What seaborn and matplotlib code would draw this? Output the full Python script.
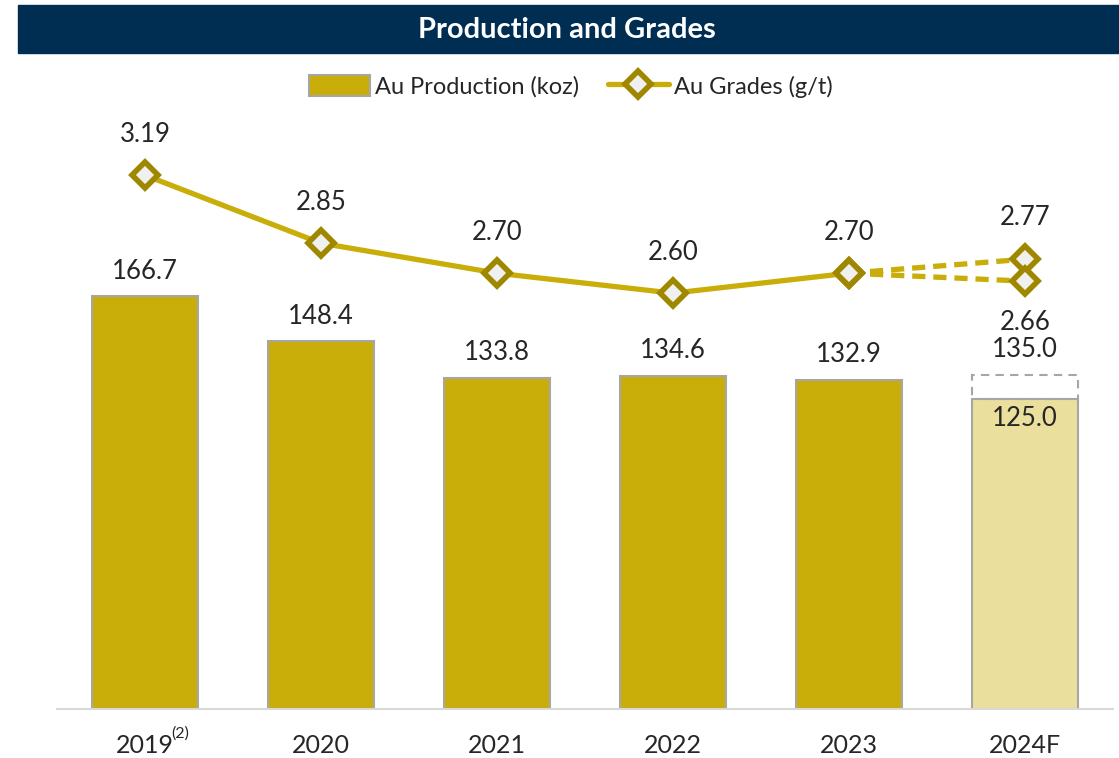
import numpy as np
import pandas as pd
import matplotlib
matplotlib.use("Agg")
import matplotlib.pyplot as plt
import seaborn as sns
from matplotlib.patches import Rectangle, Patch
from matplotlib.lines import Line2D

# Data
years = ["2019", "2020", "2021", "2022", "2023", "2024F"]
production = [166.7, 148.4, 133.8, 134.6, 132.9, 125.0]
production_high_2024 = 135.0
grades = [3.19, 2.85, 2.70, 2.60, 2.70]
grades_2024 = [2.77, 2.66]

gold = "#C9AE0A"
gold_light = "#EBDF9E"
gold_dark = "#A08700"
navy = "#002D52"

sns.set_style("white")
plt.rcParams["font.family"] = ["Lato", "DejaVu Sans"]

fig = plt.figure(figsize=(11.19, 7.58), dpi=100)

# Title banner
fig.patches.append(Rectangle((18 / 1119, 0.930), 1 - 18 / 1119, 0.0634,
                             transform=fig.transFigure, color=navy, zorder=0))
fig.text(0.507, 0.961, "Production and Grades", color="white", fontsize=21,
         fontweight="bold", ha="center", va="center")

ax = fig.add_axes([0.0509, 0.0646, 0.9437, 0.790])

df = pd.DataFrame({"year": years, "production": production})
bar_colors = [gold] * 5 + [gold_light]
sns.barplot(data=df, x="year", y="production", hue="year", palette=bar_colors,
            legend=False, width=0.6, edgecolor="#A6A6A6", linewidth=1.5,
            saturation=1, ax=ax)

# forecast range outline for 2024F
ax.bar(5, production_high_2024 - production[5], bottom=production[5], width=0.6,
       fill=False, edgecolor="#A6A6A6", linestyle=(0, (4, 3)), linewidth=1.5)

ax.set_xlim(-0.5, 5.5)
ax.set_ylim(0, 241.7)
ax.set_xlabel("")
ax.set_ylabel("")
ax.set_yticks([])
for s in ["top", "left", "right"]:
    ax.spines[s].set_visible(False)
ax.spines["bottom"].set_color("#D9D9D9")
ax.spines["bottom"].set_linewidth(1.5)
ax.tick_params(axis="x", length=0, pad=18, labelsize=18)
ax.text(0.15, -0.029, "(2)", transform=ax.get_xaxis_transform(), fontsize=11.5,
        ha="left", va="top")

lab = 18.5
for i, v in enumerate(production[:5]):
    ax.annotate(f"{v:.1f}", (i, v), xytext=(0, 18), textcoords="offset points",
                ha="center", va="center", fontsize=lab)
ax.annotate(f"{production[5]:.1f}", (5, production[5]), xytext=(0, -14),
            textcoords="offset points", ha="center", va="center", fontsize=lab)
ax.annotate(f"{production_high_2024:.1f}", (5, production_high_2024), xytext=(0, 18),
            textcoords="offset points", ha="center", va="center", fontsize=lab)

# Grades on secondary axis
ax2 = ax.twinx()
ax2.set_ylim(0.52, 3.515)
ax2.axis("off")
marker_kw = dict(marker="D", markersize=13, markeredgewidth=4,
                 markerfacecolor="#F0F0F0", markeredgecolor=gold_dark)
for g in grades_2024:
    sns.lineplot(x=[4, 5], y=[grades[-1], g], ax=ax2, color=gold, linewidth=3.8,
                 linestyle=(0, (2.5, 1.5)), **marker_kw)
sns.lineplot(x=list(range(5)), y=grades, ax=ax2, color=gold, linewidth=3.8,
             **marker_kw)

for i, g in enumerate(grades):
    ax2.annotate(f"{g:.2f}", (i, g), xytext=(0, 29), textcoords="offset points",
                 ha="center", va="center", fontsize=lab)
ax2.annotate(f"{grades_2024[0]:.2f}", (5, grades_2024[0]), xytext=(0, 30),
             textcoords="offset points", ha="center", va="center", fontsize=lab)
ax2.annotate(f"{grades_2024[1]:.2f}", (5, grades_2024[1]), xytext=(0, -30),
             textcoords="offset points", ha="center", va="center", fontsize=lab)

handles = [Patch(facecolor=gold, edgecolor="#A6A6A6", linewidth=1.5),
           Line2D([], [], color=gold, linewidth=3.8, **marker_kw)]
fig.legend(handles, ["Au Production (koz)", "Au Grades (g/t)"], loc="center",
           bbox_to_anchor=(0.51, 0.886), ncol=2, frameon=False, fontsize=17,
           handlelength=2.6, handleheight=1.0, handletextpad=0.2,
           columnspacing=1.2)

fig.savefig("out.png", dpi=100)
